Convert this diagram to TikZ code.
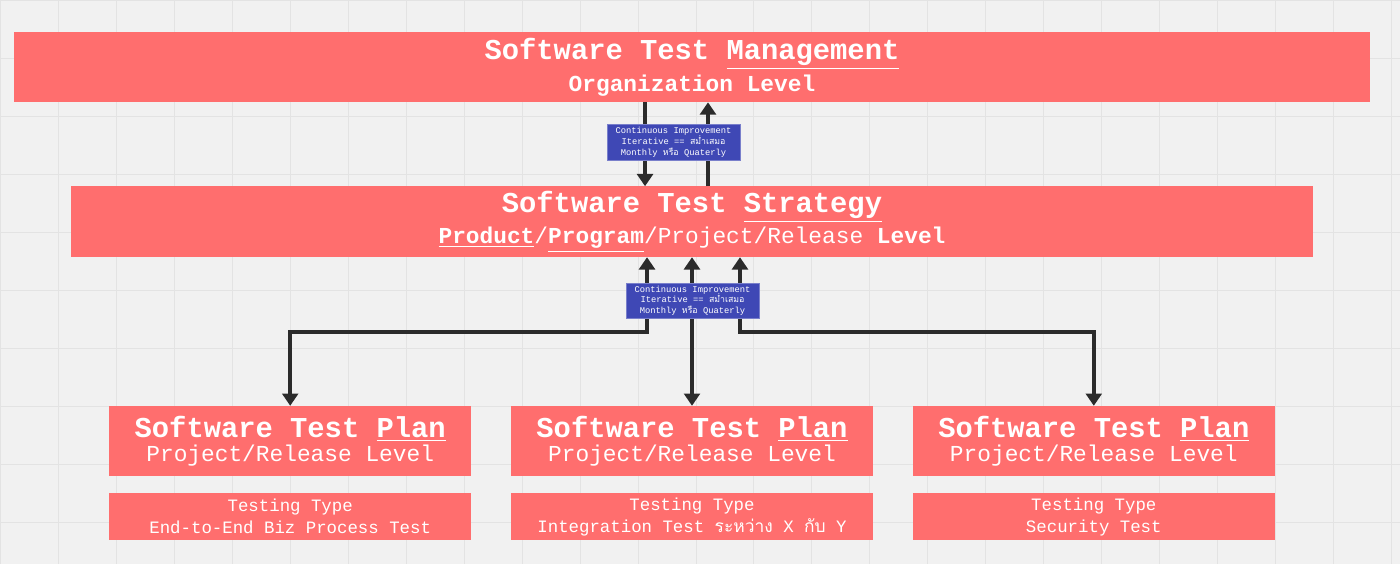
\documentclass[tikz,border=0pt]{standalone}
\usepackage{fontspec}
\setmainfont{Liberation Mono}
\newfontfamily\thaifont[Script=Thai]{Loma}
\usetikzlibrary{arrows.meta,positioning}
\definecolor{boxred}{HTML}{FF6E6E}
\definecolor{tagblue}{HTML}{3F48B5}
\definecolor{bggrey}{HTML}{F1F1F1}
\definecolor{gridgrey}{HTML}{E3E3E3}
\definecolor{linegrey}{HTML}{2B2B2B}
\newcommand{\thaitxt}[1]{{\thaifont #1}}
\tikzset{
  level/.style={fill=boxred, text=white, align=center, inner sep=0pt},
  tag/.style={fill=tagblue, draw=tagblue!70!white, text=white, align=center,
    inner sep=0pt, font=\fontsize{5}{6.2}\selectfont},
  flow/.style={line width=2.2pt, draw=linegrey, -{Triangle[length=7pt,width=9pt]}},
  both/.style={flow, {Triangle[length=7pt,width=9pt]}-{Triangle[length=7pt,width=9pt]}},
}
\begin{document}
\begin{tikzpicture}[x=0.02cm,y=-0.02cm]
    % background with faint grid
    \fill[bggrey] (0,0) rectangle (1400,564);
    \draw[gridgrey,step=1.16cm] (0,0) grid (1400,564);
    \useasboundingbox (0,0) rectangle (1400,564);

    % Organization level
    \node[level, minimum width=27.12cm, minimum height=1.4cm] (mgmt) at (692,67)
      {\fontsize{16.4}{20}\selectfont\bfseries Software Test \underline{Management}\\[2pt]
       \fontsize{13}{16}\selectfont\bfseries Organization Level};

    % Strategy level
    \node[level, minimum width=24.84cm, minimum height=1.42cm] (strat) at (692,221.5)
      {\fontsize{16.4}{20}\selectfont\bfseries Software Test \underline{Strategy}\\[2pt]
       \fontsize{13}{16}\selectfont\textbf{\underline{Product}}/\textbf{\underline{Program}}/Project/Release \textbf{Level}};

    % Plan level
    \foreach \name/\cx/\ttype in {planA/290/End-to-End Biz Process Test,
        planB/692/Integration Test \thaitxt{ระหว่าง} X \thaitxt{กับ} Y,
        planC/1094/Security Test} {
      \node[level, minimum width=7.24cm, minimum height=1.4cm] (\name) at (\cx,441)
        {\fontsize{16.4}{20}\selectfont\bfseries Software Test \underline{Plan}\\[2pt]
         \fontsize{13}{16}\selectfont Project/Release Level};
      \node[level, minimum width=7.24cm, minimum height=0.94cm,
            font=\fontsize{9.9}{12.5}\selectfont] (\name type) at (\cx,516.5)
        {Testing Type\\\ttype};
    }

    % Management <-> Strategy
    \coordinate (m1) at (645,102);
    \coordinate (s1) at (645,186);
    \coordinate (m2) at (708,102);
    \coordinate (s2) at (708,186);
    \draw[flow] (m1) -- (s1);
    \draw[flow] (s2) -- (m2);
    \node[tag, minimum width=2.66cm, minimum height=0.72cm] (tagtop) at (673.5,142)
      {Continuous Improvement\\Iterative == \thaitxt{สม่ำเสมอ}\\Monthly \thaitxt{หรือ} Quaterly};

    % Strategy <-> Plans
    \coordinate (sa) at (647,257);
    \coordinate (sb) at (692,257);
    \coordinate (sc) at (740,257);
    \draw[both] (planA.north) |- (647,332) -- (sa);
    \draw[both] (planB.north) -- (sb);
    \draw[both] (planC.north) |- (740,332) -- (sc);
    \node[tag, minimum width=2.66cm, minimum height=0.7cm] (tagmid) at (692.5,300.5)
      {Continuous Improvement\\Iterative == \thaitxt{สม่ำเสมอ}\\Monthly \thaitxt{หรือ} Quaterly};
\end{tikzpicture}
\end{document}
